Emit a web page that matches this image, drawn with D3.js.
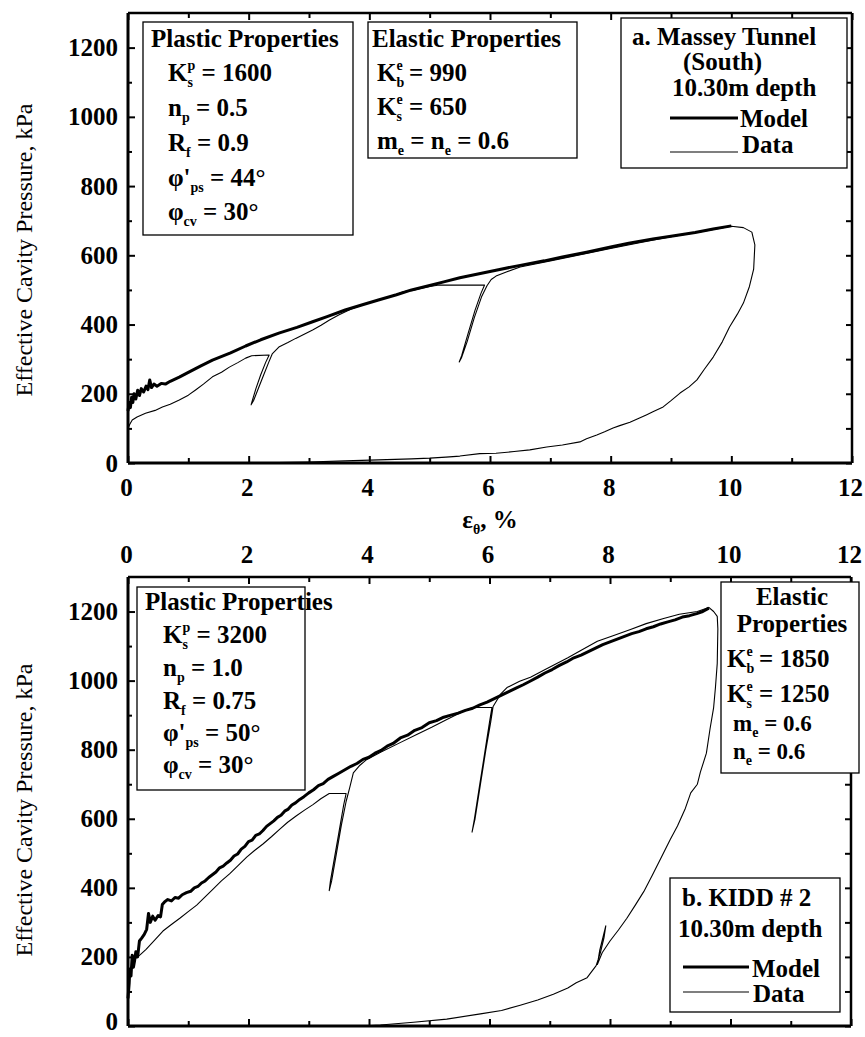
<!DOCTYPE html>
<html><head><meta charset="utf-8">
<script src="https://cdn.jsdelivr.net/npm/d3@7"></script>
<style>
body{margin:0;background:#fff}
svg text{font-family:"Liberation Serif","Times New Roman",serif;fill:#000}
</style>
</head><body>
<svg id="c" width="865" height="1037"></svg>
<script>
// ---------- tick labels ----------
const xTickValues = [0,2,4,6,8,10,12];
const xMinorValues = [1,3,5,7,9,11];
const yTickValues = [0,200,400,600,800,1000,1200];
const yMinorValues = [100,300,500,700,900,1100];
const xDomain = [0,12];
const yDomain = [0,1300];

// ---------- panel a: Massey Tunnel (South) ----------
const masseyModel = [[0,150],[0.02,175],[0.04,160],[0.06,190],[0.08,175],[0.1,200],[0.13,185],[0.16,210],[0.19,195],[0.22,215],[0.26,205],[0.3,222],[0.33,212],[0.36,240],[0.39,218],[0.43,228],[0.48,222],[0.55,230],[0.62,228],[0.7,236],[0.85,248],[1.0,262],[1.2,280],[1.4,297],[1.7,318],[1.95,338],[2.2,356],[2.5,375],[2.8,392],[3.06,408],[3.3,423],[3.6,442],[3.9,458],[4.15,471],[4.45,486],[4.7,500],[5.0,513],[5.25,524],[5.5,535],[5.8,546],[6.1,557],[6.5,571],[6.9,584],[7.2,595],[7.6,609],[8.0,624],[8.3,635],[8.7,647],[9.0,655],[9.4,666],[9.7,676],[10.0,685]];
const masseyData = [[0,100],[0.03,112],[0.07,124],[0.15,133],[0.29,144],[0.45,152],[0.57,162],[0.7,170],[0.85,182],[1.0,196],[1.12,211],[1.25,228],[1.4,249],[1.55,262],[1.68,277],[1.82,290],[1.95,303],[2.05,310],[2.34,312],[2.28,290],[2.2,255],[2.12,215],[2.06,180],[2.04,168],[2.08,180],[2.16,215],[2.25,255],[2.33,290],[2.39,315],[2.5,335],[2.65,348],[2.78,360],[2.92,372],[3.06,384],[3.2,398],[3.34,413],[3.5,428],[3.7,445],[3.9,457],[4.1,468],[4.3,478],[4.45,487],[4.55,494],[4.62,497],[4.7,498],[4.85,504],[5.0,510],[5.16,514],[5.91,514],[5.85,490],[5.75,440],[5.63,370],[5.53,310],[5.49,292],[5.53,305],[5.62,350],[5.74,420],[5.86,480],[5.95,512],[6.02,530],[6.1,540],[6.27,552],[6.5,566],[7.0,584],[7.5,602],[8.0,620],[8.5,637],[9.0,654],[9.5,668],[10.0,684],[10.2,680],[10.34,667],[10.39,630],[10.37,560],[10.3,510],[10.2,462],[10.1,430],[9.97,393],[9.85,350],[9.7,306],[9.55,270],[9.43,240],[9.3,220],[9.15,202],[9.0,180],[8.87,162],[8.7,148],[8.59,139],[8.45,128],[8.32,118],[8.15,108],[8.04,101],[7.9,90],[7.77,81],[7.6,70],[7.49,61],[7.2,52],[6.94,46],[6.66,38],[6.4,33],[6.1,28],[5.83,27],[5.5,20],[5.27,17],[5.0,14],[4.7,12],[4.15,9],[3.6,6],[3.0,3],[2.5,1],[2.2,0]];

// ---------- panel b: KIDD # 2 ----------
const kiddModel = [[0,80],[0.02,125],[0.03,165],[0.05,145],[0.07,205],[0.09,170],[0.11,190],[0.13,215],[0.16,200],[0.19,246],[0.23,255],[0.27,265],[0.31,280],[0.34,326],[0.37,300],[0.41,318],[0.45,306],[0.5,320],[0.54,316],[0.57,352],[0.61,360],[0.66,366],[0.72,362],[0.78,372],[0.84,370],[0.9,380],[0.97,386],[1.04,390],[1.1,400],[1.16,404],[1.22,414],[1.28,420],[1.34,430],[1.4,438],[1.46,446],[1.52,458],[1.58,463],[1.64,472],[1.7,480],[1.76,492],[1.82,498],[1.88,512],[1.94,520],[2.0,534],[2.06,538],[2.12,552],[2.18,556],[2.24,566],[2.3,578],[2.36,586],[2.42,594],[2.48,604],[2.54,610],[2.6,622],[2.66,628],[2.72,640],[2.78,646],[2.85,656],[2.92,664],[3.0,675],[3.08,684],[3.16,696],[3.24,702],[3.32,714],[3.4,722],[3.5,732],[3.6,742],[3.7,752],[3.8,760],[3.9,772],[4.0,778],[4.1,790],[4.2,798],[4.3,810],[4.4,818],[4.52,834],[4.64,842],[4.76,856],[4.88,864],[5.0,878],[5.12,884],[5.24,894],[5.36,900],[5.48,906],[5.6,914],[5.72,920],[5.84,930],[5.96,938],[6.08,948],[6.2,958],[6.32,968],[6.44,978],[6.56,988],[6.68,999],[6.8,1010],[6.92,1022],[7.04,1032],[7.16,1044],[7.28,1054],[7.4,1066],[7.52,1074],[7.64,1084],[7.76,1094],[7.88,1104],[8.0,1112],[8.12,1120],[8.24,1128],[8.36,1136],[8.48,1142],[8.6,1150],[8.72,1156],[8.84,1164],[8.96,1170],[9.08,1176],[9.2,1184],[9.32,1188],[9.44,1194],[9.54,1200],[9.64,1210]];
const kiddData = [[0,90],[0.03,150],[0.08,185],[0.15,200],[0.2,206],[0.3,222],[0.45,250],[0.58,275],[0.72,294],[0.86,312],[1.0,331],[1.14,350],[1.28,374],[1.42,398],[1.55,420],[1.69,441],[1.83,465],[1.97,489],[2.1,508],[2.24,527],[2.38,548],[2.52,570],[2.65,590],[2.79,608],[2.93,625],[3.07,641],[3.2,658],[3.34,673],[3.62,673],[3.58,640],[3.5,560],[3.42,480],[3.36,420],[3.34,392],[3.38,420],[3.46,500],[3.54,580],[3.62,650],[3.68,690],[3.74,733],[3.85,755],[3.95,770],[4.2,793],[4.5,819],[4.8,845],[5.04,865],[5.3,888],[5.6,914],[5.73,922],[6.04,922],[6.0,880],[5.92,790],[5.83,690],[5.75,600],[5.71,561],[5.76,600],[5.85,700],[5.94,800],[6.02,880],[6.06,925],[6.18,960],[6.29,980],[6.5,998],[6.68,1010],[6.9,1030],[7.1,1048],[7.3,1066],[7.5,1086],[7.79,1114],[8.05,1130],[8.34,1148],[8.6,1165],[8.89,1180],[9.15,1192],[9.45,1200],[9.64,1212],[9.72,1200],[9.78,1186],[9.79,1150],[9.78,1050],[9.75,980],[9.72,922],[9.66,860],[9.6,790],[9.5,735],[9.45,700],[9.34,675],[9.25,630],[9.12,579],[9.0,540],[8.84,484],[8.7,436],[8.56,389],[8.42,350],[8.28,312],[8.14,278],[8.0,246],[7.87,212],[7.79,178],[7.83,220],[7.89,262],[7.93,290],[7.9,255],[7.84,212],[7.77,175],[7.62,140],[7.44,125],[7.3,110],[7.06,92],[6.8,75],[6.51,60],[6.2,45],[5.85,35],[5.29,20],[4.74,11],[4.19,3],[3.9,0]];

// ---------- text content ----------
const masseyPlastic = [["Plastic Properties"],["K",["sub","s"],["sup","p"]," = 1600"],["n",["sub","p"]," = 0.5"],["R",["sub","f"]," = 0.9"],["φ'",["sub","ps"]," = 44°"],["φ",["sub","cv"]," = 30°"]];
const masseyElastic = [["Elastic Properties"],["K",["sub","b"],["sup","e"]," = 990"],["K",["sub","s"],["sup","e"]," = 650"],["m",["sub","e"]," = n",["sub","e"]," = 0.6"]];
const masseyLegend = ["a. Massey Tunnel","(South)","10.30m depth"];
const kiddPlastic = [["Plastic Properties"],["K",["sub","s"],["sup","p"]," = 3200"],["n",["sub","p"]," = 1.0"],["R",["sub","f"]," = 0.75"],["φ'",["sub","ps"]," = 50°"],["φ",["sub","cv"]," = 30°"]];
const kiddElastic = [["Elastic"],["Properties"],["K",["sub","b"],["sup","e"]," = 1850"],["K",["sub","s"],["sup","e"]," = 1250"],["m",["sub","e"]," = 0.6"],["n",["sub","e"]," = 0.6"]];
const kiddLegend = ["b. KIDD # 2","10.30m depth"];
const seriesNames = ["Model","Data"];
const yTitle = "Effective Cavity Pressure, kPa";

const svg = d3.select("#c");
const FS = 25;

function rich(sel, x, y, parts, anchor, fs){
  const t = sel.append("text").attr("x",x).attr("y",y)
    .attr("text-anchor",anchor||"start").attr("font-weight","bold").attr("font-size",fs||FS);
  let shift=0, lastSubW=0, prev=null;
  parts.forEach(p=>{
    let type="n", s=p;
    if(Array.isArray(p)){type=p[0]; s=p[1];}
    const target = type==="sub"?6:(type==="sup"?-11:0);
    const ts = t.append("tspan").text(s).attr("dy",target-shift);
    if(type!=="n") ts.attr("font-size",14);
    if(type==="sup" && prev==="sub") ts.attr("dx",-lastSubW);
    if(type==="sub") lastSubW = ts.node().getComputedTextLength();
    shift=target; prev=type;
  });
  return t;
}

function panel(cfg){
  const x = d3.scaleLinear().domain(xDomain).range([cfg.left,cfg.right]);
  const y = d3.scaleLinear().domain(yDomain).range([cfg.bottom,cfg.top]);
  const g = svg.append("g");
  const fontAxis = s=>s.selectAll("text").attr("font-size",FS).attr("font-weight","bold")
      .attr("font-family","Liberation Serif, serif").attr("fill","#000");
  const clean = s=>{s.select(".domain").remove(); s.selectAll("line").attr("stroke","#000").attr("stroke-width",2);};

  // left axis
  g.append("g").attr("transform",`translate(${cfg.left},0)`)
    .call(d3.axisLeft(y).tickValues(yTickValues).tickSize(-7).tickPadding(10).tickFormat(d3.format("d")))
    .call(clean).call(fontAxis)
    .call(s=>s.selectAll("text").filter(d=>d===0).attr("dy",cfg.zeroDy||"0.32em"));
  g.append("g").attr("transform",`translate(${cfg.left},0)`)
    .call(d3.axisLeft(y).tickValues(yMinorValues).tickSize(-4).tickFormat(""))
    .call(clean);
  // right axis
  g.append("g").attr("transform",`translate(${cfg.right},0)`)
    .call(d3.axisRight(y).tickValues(yTickValues.concat(yMinorValues)).tickSize(-6).tickFormat(""))
    .call(clean);
  // bottom & top axes
  const labelled = cfg.labelsTop ? "top" : "bottom";
  const ax = labelled==="bottom" ? d3.axisBottom(x) : d3.axisTop(x);
  const ay = labelled==="bottom" ? cfg.bottom : cfg.top;
  g.append("g").attr("transform",`translate(0,${ay})`)
    .call(ax.tickValues(xTickValues).tickSize(-7).tickPadding(labelled==="bottom"?15:14))
    .call(clean).call(fontAxis).call(s=>s.selectAll("text").attr("dx",-2));
  const other = labelled==="bottom" ? d3.axisTop(x) : d3.axisBottom(x);
  const oy = labelled==="bottom" ? cfg.top : cfg.bottom;
  g.append("g").attr("transform",`translate(0,${oy})`)
    .call(other.tickValues(xTickValues).tickSize(-7).tickFormat("")).call(clean);
  [ [ay, labelled==="bottom"?d3.axisBottom(x):d3.axisTop(x)], [oy, labelled==="bottom"?d3.axisTop(x):d3.axisBottom(x)] ].forEach(([yy,a])=>{
    g.append("g").attr("transform",`translate(0,${yy})`)
      .call(a.tickValues(xMinorValues).tickSize(-5).tickFormat("")).call(clean);
  });

  // frame
  g.append("line").attr("x1",cfg.left).attr("x2",cfg.right).attr("y1",cfg.bottom).attr("y2",cfg.bottom).attr("stroke","#000").attr("stroke-width",3);
  g.append("line").attr("x1",cfg.left).attr("x2",cfg.right).attr("y1",cfg.top).attr("y2",cfg.top).attr("stroke","#000").attr("stroke-width",2.5);
  g.append("line").attr("x1",cfg.left).attr("x2",cfg.left).attr("y1",cfg.top).attr("y2",cfg.bottom).attr("stroke","#000").attr("stroke-width",3);
  g.append("line").attr("x1",cfg.right).attr("x2",cfg.right).attr("y1",cfg.top).attr("y2",cfg.bottom).attr("stroke","#000").attr("stroke-width",2.5);

  // curves
  const line = d3.line().x(d=>x(d[0])).y(d=>y(d[1]));
  g.append("path").datum(cfg.data).attr("d",line).attr("fill","none").attr("stroke","#000").attr("stroke-width",1.1).attr("stroke-linejoin","round");
  g.append("path").datum(cfg.model).attr("d",line).attr("fill","none").attr("stroke","#000").attr("stroke-width",3).attr("stroke-linejoin","round");

  // y title
  g.append("text").attr("transform",`translate(${cfg.titleX},${cfg.titleY}) rotate(-90)`)
    .attr("text-anchor","middle").attr("font-size",24).text(yTitle);
  return {x,y,g};
}

const A = panel({left:128,right:852,top:13,bottom:463,labelsTop:false,data:masseyData,model:masseyModel,titleX:32,titleY:250});
const B = panel({left:128,right:851,top:577,bottom:1026,labelsTop:true,data:kiddData,model:kiddModel,titleX:32,titleY:810,zeroDy:"0.12em"});

// x title between panels
const xt = svg.append("text").attr("x",490).attr("y",528).attr("text-anchor","middle").attr("font-size",FS).attr("font-weight","bold");
xt.append("tspan").text("ε");
xt.append("tspan").text("θ").attr("font-size",14).attr("dy",6);
xt.append("tspan").text(", %").attr("dy",-6);

function box(g, r){
  g.append("rect").attr("x",r[0]).attr("y",r[1]).attr("width",r[2]).attr("height",r[3])
    .attr("fill","#fff").attr("stroke","#000").attr("stroke-width",1.3);
}

// panel a boxes
box(A.g,[143,22,210,213]);
masseyPlastic.forEach((l,i)=>rich(A.g, i===0?151:168, [47,81,116,151,186,220][i], l));
box(A.g,[368,22,209,136]);
masseyElastic.forEach((l,i)=>rich(A.g, i===0?372:377, [47,81,115,149][i], l));
box(A.g,[621,18,226,150]);
masseyLegend.forEach((s,i)=>rich(A.g,[632,683,672][i],[45,70,96][i],[s]));
A.g.append("line").attr("x1",670).attr("x2",738).attr("y1",118).attr("y2",118).attr("stroke","#000").attr("stroke-width",3);
A.g.append("line").attr("x1",670).attr("x2",738).attr("y1",152).attr("y2",152).attr("stroke","#000").attr("stroke-width",1.1);
rich(A.g,740,127,[seriesNames[0]]);
rich(A.g,742,153,[seriesNames[1]]);

// panel b boxes
box(B.g,[137,587,168,203]);
kiddPlastic.forEach((l,i)=>rich(B.g, i===0?145:163, [610,643,676,709,741,773][i], l));
box(B.g,[721,582,138,191]);
kiddElastic.forEach((l,i)=>{
  if(i<2) rich(B.g,792,[605,632][i],l,"middle");
  else rich(B.g,[727,727,733,733][i-2],[667,702,731,759][i-2],l,null,i>3?23:25);
});
box(B.g,[670,878,170,134]);
kiddLegend.forEach((s,i)=>rich(B.g,[682,678][i],[906,937][i],[s]));
B.g.append("line").attr("x1",683).attr("x2",749).attr("y1",967).attr("y2",967).attr("stroke","#000").attr("stroke-width",3);
B.g.append("line").attr("x1",683).attr("x2",749).attr("y1",992).attr("y2",992).attr("stroke","#000").attr("stroke-width",1.1);
rich(B.g,752,977,[seriesNames[0]]);
rich(B.g,753,1002,[seriesNames[1]]);
</script>
</body></html>
